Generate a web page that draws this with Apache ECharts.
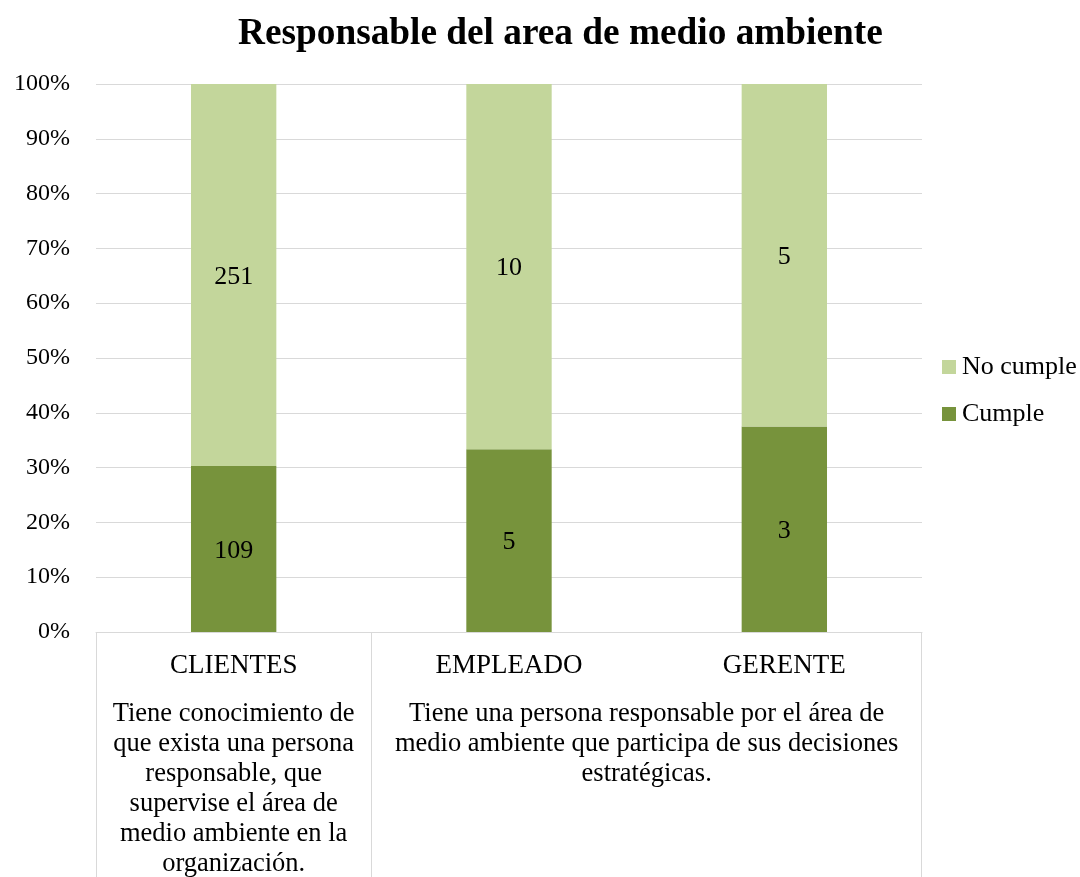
<!DOCTYPE html>
<html>
<head>
<meta charset="utf-8">
<script src="https://cdn.jsdelivr.net/npm/echarts@6/dist/echarts.min.js"></script>
<style>
html, body { margin: 0; padding: 0; background: #ffffff; }
#chart { width: 1080px; height: 877px; }
</style>
</head>
<body>
<div id="chart"></div>
<script>
// Counts per respondent group
const categories = ['CLIENTES', 'EMPLEADO', 'GERENTE'];
const cumple = [109, 5, 3];
const noCumple = [251, 10, 5];

// Question texts grouping the categories on the x axis (first and last category index)
const groupTexts = [
  'Tiene conocimiento de\nque exista una persona\nresponsable, que\nsupervise el área de\nmedio ambiente en la\norganización.',
  'Tiene una persona responsable por el área de\nmedio ambiente que participa de sus decisiones\nestratégicas.'
];
const groupFrom = [0, 1];
const groupTo = [0, 2];

const FONT = "'Liberation Serif', 'Times New Roman', serif";
const GRID_COLOR = '#D9D9D9';

function shareData(values) {
  return values.map((v, i) => ({
    value: v / (cumple[i] + noCumple[i]) * 100,
    count: v
  }));
}

const chart = echarts.init(document.getElementById('chart'), null, { renderer: 'canvas' });

const labelStyle = {
  show: true,
  position: 'inside',
  offset: [0, 2],
  color: '#000000',
  fontFamily: FONT,
  fontSize: 26,
  formatter: p => String(p.data.count)
};

const option = {
  backgroundColor: '#ffffff',
  animation: false,
  title: {
    text: 'Responsable del area de medio ambiente',
    left: 238,
    top: 16,
    padding: 0,
    textStyle: { fontFamily: FONT, fontSize: 37.3, fontWeight: 'bold', color: '#000000' }
  },
  legend: {
    orient: 'vertical',
    left: 942,
    top: 354,
    padding: 0,
    itemWidth: 14,
    itemHeight: 14,
    itemGap: 21,
    icon: 'rect',
    data: ['No cumple', 'Cumple'],
    textStyle: { fontFamily: FONT, fontSize: 26, color: '#000000', padding: [0, 0, 0, 1] }
  },
  grid: { left: 96, right: 158, top: 84, bottom: 245, containLabel: false },
  xAxis: {
    type: 'category',
    data: categories,
    axisLine: { show: true, lineStyle: { color: GRID_COLOR, width: 1 } },
    axisTick: { show: false },
    axisLabel: { fontFamily: FONT, fontSize: 27, color: '#000000', margin: 20 }
  },
  yAxis: {
    type: 'value',
    min: 0,
    max: 100,
    interval: 10,
    axisLine: { show: false },
    axisTick: { show: false },
    axisLabel: { formatter: '{value}%', fontFamily: FONT, fontSize: 24, color: '#000000', margin: 26 },
    splitLine: { lineStyle: { color: GRID_COLOR, width: 1 } }
  },
  series: [
    {
      name: 'Cumple',
      type: 'bar',
      stack: 'total',
      barWidth: '31%',
      itemStyle: { color: '#77933C' },
      label: labelStyle,
      data: shareData(cumple)
    },
    {
      name: 'No cumple',
      type: 'bar',
      stack: 'total',
      barWidth: '31%',
      itemStyle: { color: '#C3D69B' },
      label: labelStyle,
      data: shareData(noCumple)
    }
  ]
};

chart.setOption(option);

// Boxes and question texts under the category labels, placed from the axis scale
function drawGroups() {
  const centers = categories.map(c => chart.convertToPixel({ xAxisIndex: 0 }, c));
  const band = centers[1] - centers[0];
  const y0 = chart.convertToPixel({ yAxisIndex: 0 }, 0);
  const bottom = chart.getHeight();
  const elements = [];
  const lineStyle = { stroke: GRID_COLOR, lineWidth: 1 };
  groupTexts.forEach((txt, g) => {
    const left = centers[groupFrom[g]] - band / 2;
    elements.push({
      type: 'line', silent: true,
      shape: { x1: Math.round(left) + 0.5, y1: y0, x2: Math.round(left) + 0.5, y2: bottom },
      style: lineStyle
    });
    elements.push({
      type: 'text', silent: true,
      x: (centers[groupFrom[g]] + centers[groupTo[g]]) / 2,
      y: y0 + 67,
      style: {
        text: txt,
        fill: '#000000',
        fontFamily: FONT,
        fontSize: 26.5,
        lineHeight: 30,
        align: 'center',
        verticalAlign: 'top'
      }
    });
  });
  const right = centers[groupTo[groupTo.length - 1]] + band / 2;
  elements.push({
    type: 'line', silent: true,
    shape: { x1: Math.round(right) - 0.5, y1: y0, x2: Math.round(right) - 0.5, y2: bottom },
    style: lineStyle
  });
  chart.setOption({ graphic: elements });
}
drawGroups();
</script>
</body>
</html>
